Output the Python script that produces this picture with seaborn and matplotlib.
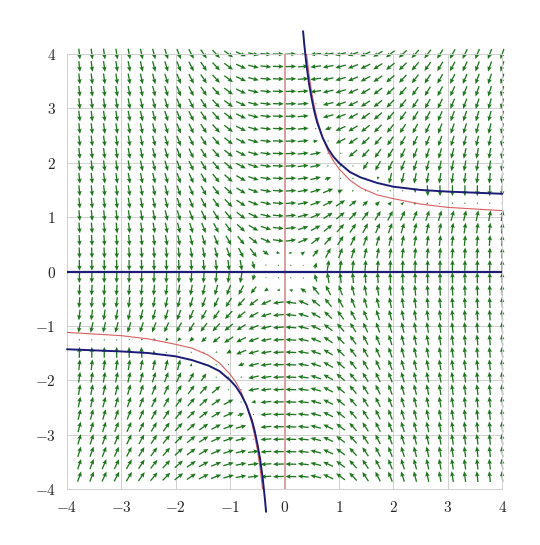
import numpy as np
import matplotlib
matplotlib.use('Agg')
import matplotlib.pyplot as plt
import seaborn as sns

### DATA ###

ticks = [-4, -3, -2, -1, 0, 1, 2, 3, 4]
tick_labels = ['$-4$', '$-3$', '$-2$', '$-1$', '$0$', '$1$', '$2$', '$3$', '$4$']

# blue branch (upper right), the lower left one is its mirror image
blue_x = [0.34, 0.36, 0.40, 0.45, 0.50, 0.55, 0.60, 0.70, 0.80, 0.90, 1.00, 1.20, 1.40, 1.70, 2.00, 2.50, 3.00, 3.50, 4.00]
blue_y = [4.42, 4.20, 3.82, 3.45, 3.17, 2.93, 2.74, 2.46, 2.26, 2.11, 2.00, 1.83, 1.73, 1.63, 1.56, 1.50, 1.47, 1.45, 1.43]

# red branch (upper right)
red_x = [0.405, 0.45, 0.50, 0.55, 0.60, 0.70, 0.80, 0.90, 1.00, 1.20, 1.40, 1.70, 2.00, 2.50, 3.00, 3.50, 4.00]
red_y = [4.00, 3.62, 3.28, 3.02, 2.80, 2.46, 2.21, 2.03, 1.89, 1.68, 1.54, 1.41, 1.34, 1.24, 1.18, 1.15, 1.12]

# direction field  x' = y*g(x,y),  y' = x*h(x,y)
def field(x, y):
    d = np.sqrt(1 + x**2 + np.minimum(x * y, 0)**2)
    g = (np.sqrt(2 + 2 * x**2) - x * y) / d
    h = np.sqrt(2.13 + 1.44 * x**2) - x * y
    return 1.5 * y * g, x * h

### PLOT ###

sns.set_style('white')
plt.rcParams['mathtext.fontset'] = 'cm'

fig = plt.figure(figsize=(5.4, 5.45), dpi=100)
ax = fig.add_axes([0.124, 0.1028, 0.806, 0.798])

for t in ticks:
    ax.axvline(t, color='#d0d0d0', lw=0.7, zorder=0)
    ax.axhline(t, color='#d0d0d0', lw=0.7, zorder=0)

gx = np.linspace(-4, 4, 36)[1:]
X, Y = np.meshgrid(gx, gx)
U, V = field(X, Y)
mag = np.hypot(U, V)
mag[mag == 0] = 1e-9
arrow_len = 0.2
s = np.minimum(1, (mag / 1.1) ** 3) * arrow_len / mag
ax.quiver(X, Y, U * s, V * s, angles='xy', scale_units='xy', scale=1,
          pivot='mid', color='#1f761f', width=0.003, headwidth=3.5,
          headlength=4, headaxislength=3.5, zorder=2, clip_on=False)

ax.plot([0, 0], [-4, 4], color='#d99a96', lw=1.3, zorder=3)
sns.lineplot(x=red_x, y=red_y, sort=False, color='#d86060', lw=0.8, ax=ax, zorder=3)
sns.lineplot(x=[-v for v in red_x], y=[-v for v in red_y], sort=False, color='#d86060', lw=0.8, ax=ax, zorder=3)

ax.plot([-4, 4], [0, 0], color='#1c1c78', lw=1.6, zorder=4)
ax.plot(blue_x, blue_y, color='#1c1c78', lw=1.4, zorder=4, clip_on=False)
ax.plot([-v for v in blue_x], [-v for v in blue_y], color='#1c1c78', lw=1.4, zorder=4, clip_on=False)

ax.set_xlim(-4, 4)
ax.set_ylim(-4, 4)
ax.set_xticks(ticks)
ax.set_yticks(ticks)
ax.set_xticklabels(tick_labels, fontsize=11)
ax.set_yticklabels(tick_labels, fontsize=11)
ax.tick_params(length=0, pad=8)
for sp in ax.spines.values():
    sp.set_color('#d0d0d0')
    sp.set_linewidth(0.7)

fig.savefig('out.png', dpi=100)
